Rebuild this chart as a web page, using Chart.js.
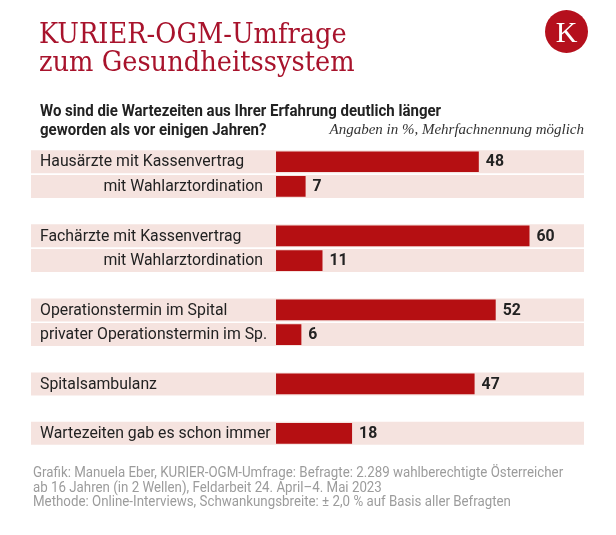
<!DOCTYPE html>
<html>
<head>
<meta charset="utf-8">
<script src="https://cdn.jsdelivr.net/npm/chart.js@4"></script>
<style>
  html, body { margin: 0; padding: 0; background: #ffffff; }
  body { width: 616px; height: 535px; position: relative; overflow: hidden; }
  #chart { position: absolute; left: 0; top: 0; }
  .abs { position: absolute; white-space: nowrap; }
  .cond { display: inline-block; transform-origin: 0 0; }
  #title { left: 39px; top: 19px; font-family: "DejaVu Serif", serif; font-size: 27.5px; line-height: 28px; color: #a8132c; }
  #logo { left: 545px; top: 10px; width: 43px; height: 43px; border-radius: 50%; background: #b5101d; color: #fff;
          font-family: "Liberation Serif", serif; font-size: 30px; line-height: 43px; text-align: center; }
  #sub { left: 40px; top: 102px; font-family: Roboto, sans-serif; font-weight: bold; font-size: 16.5px; line-height: 18.5px; color: #222; }
  #note { right: 32px; top: 120px; font-family: "Liberation Serif", serif; font-style: italic; font-size: 15px; line-height: 18px; color: #333; }
  #foot { left: 33px; top: 465px; font-family: Roboto, sans-serif; font-size: 14px; line-height: 14.7px; color: #9c9c9c; }
</style>
</head>
<body>
<canvas id="chart" width="616" height="535"></canvas>
<div id="title" class="abs"><span class="cond" style="transform: scaleX(0.935)">KURIER-OGM-Umfrage<br>zum Gesundheitssystem</span></div>
<div id="logo" class="abs">K</div>
<div id="sub" class="abs"><span class="cond" style="transform: scaleX(0.91)">Wo sind die Wartezeiten aus Ihrer Erfahrung deutlich länger<br>geworden als vor einigen Jahren?</span></div>
<div id="note" class="abs">Angaben in %, Mehrfachnennung möglich</div>
<div id="foot" class="abs"><span class="cond" style="transform: scaleX(0.95)">Grafik: Manuela Eber, KURIER-OGM-Umfrage: Befragte: 2.289 wahlberechtigte Österreicher<br>ab 16 Jahren (in 2 Wellen), Feldarbeit 24. April–4. Mai 2023<br>Methode: Online-Interviews, Schwankungsbreite: ± 2,0 % auf Basis aller Befragten</span></div>
<script>
// ---- data ----
const categories = [
  'Hausärzte mit Kassenvertrag', 'mit Wahlarztordination', '',
  'Fachärzte mit Kassenvertrag', 'mit Wahlarztordination', '',
  'Operationstermin im Spital', 'privater Operationstermin im Sp.', '',
  'Spitalsambulanz', '',
  'Wartezeiten gab es schon immer'
];
const values = [48, 7, null, 60, 11, null, 52, 6, null, 47, null, 18];
const scaleMin = -58;
const scaleMax = 72.9;

// ---- derived ----
const barData = values.map(v => v === null ? null : [0, v]);
const bgData = values.map(v => v === null ? null : [scaleMin, scaleMax]);

const CONDENSE = 0.93;
const labelPlugin = {
  id: 'labels',
  afterDatasetsDraw(chart) {
    const ctx = chart.ctx;
    const xs = chart.scales.x, ys = chart.scales.y;
    ctx.save();
    ctx.textBaseline = 'middle';
    categories.forEach((lab, i) => {
      if (values[i] === null) return;
      const y = ys.getPixelForValue(i) + 0.5;
      // category label
      ctx.font = '17px Roboto, sans-serif';
      ctx.fillStyle = '#222222';
      const w = ctx.measureText(lab).width * CONDENSE;
      let x;
      if (lab.startsWith('mit ')) x = xs.getPixelForValue(0) - 13 - w;
      else x = xs.getPixelForValue(scaleMin) + 9;
      ctx.save();
      ctx.translate(x, y);
      ctx.scale(CONDENSE, 1);
      ctx.textAlign = 'left';
      ctx.fillText(lab, 0, 0);
      ctx.restore();
      // value label
      ctx.font = 'bold 17px Roboto, sans-serif';
      const vx = xs.getPixelForValue(values[i]) + 7;
      ctx.save();
      ctx.translate(vx, y);
      ctx.scale(CONDENSE, 1);
      ctx.fillText(String(values[i]), 0, 0);
      ctx.restore();
    });
    ctx.restore();
  }
};

new Chart(document.getElementById('chart'), {
  type: 'bar',
  data: {
    labels: categories,
    datasets: [
      { data: barData, backgroundColor: '#b50f12', barPercentage: 0.84, categoryPercentage: 1, grouped: false, order: 0 },
      { data: bgData, backgroundColor: '#f5e3df', barPercentage: 0.93, categoryPercentage: 1, grouped: false, order: 1 }
    ]
  },
  options: {
    indexAxis: 'y',
    responsive: false,
    animation: false,
    layout: { padding: { left: 31, right: 32, top: 149.4, bottom: 89.3 } },
    plugins: { legend: { display: false }, tooltip: { enabled: false } },
    scales: {
      x: { display: false, min: scaleMin, max: scaleMax },
      y: { display: false }
    }
  },
  plugins: [labelPlugin]
});
</script>
</body>
</html>
